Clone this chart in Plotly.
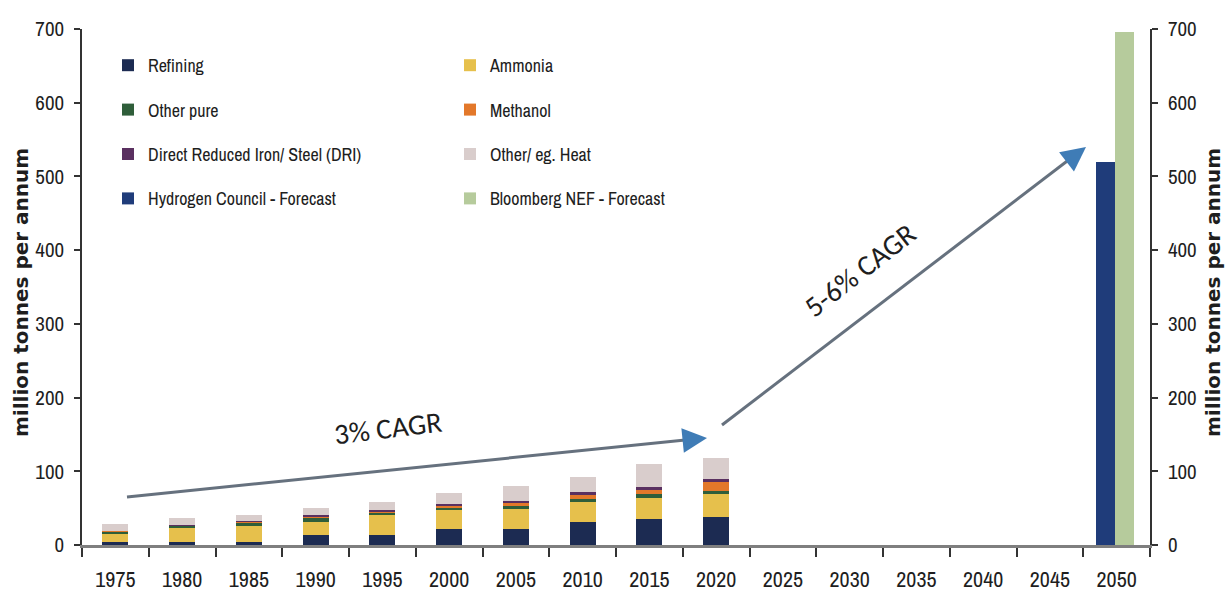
import plotly.graph_objects as go

# Categories (years) and hydrogen demand by end use, million tonnes per annum
years = ["1975", "1980", "1985", "1990", "1995", "2000", "2005", "2010",
         "2015", "2020", "2025", "2030", "2035", "2040", "2045", "2050"]
hist_years = years[:10]

refining = [4, 4, 4, 14, 14, 22, 22, 31, 35, 38]
ammonia = [11, 19, 22, 17, 27, 25, 27, 27, 29, 31]
other_pure = [3, 3, 5, 6, 3, 4, 4, 5, 5, 4]
methanol = [1, 1, 1, 2, 1, 2, 5, 5, 6, 13]
dri = [0.5, 0.5, 0.5, 2, 2, 2, 2, 4, 4, 4]
other_heat = [9, 9, 8, 9, 11, 15, 20, 20, 31, 28]

forecast_year = ["2050"]
hydrogen_council = [520]
bloomberg_nef = [696]

y_ticks = [0, 100, 200, 300, 400, 500, 600, 700]

NARROW = "Archivo Narrow, PT Sans Narrow, Roboto Condensed, sans-serif"
CALLOUT = "Carlito, Lato, sans-serif"
TEXT = "#1e1e1e"

# Plot-area geometry in pixels (used to place annotations in data units)
W, H = 1228, 604
L, R, T, B = 82, 78, 29, 59
plot_w = W - L - R
plot_h = H - T - B
slot = plot_w / len(years)


def px_to_x(px):
    return (px - L) / slot - 0.5


def px_to_y(py):
    return (H - B - py) / plot_h * 700


fig = go.Figure()

hist_series = [
    ("Refining", refining, "#1c2b52", "legend", "g1"),
    ("Ammonia", ammonia, "#e6c04c", "legend2", "g5"),
    ("Other pure", other_pure, "#2f5e3a", "legend", "g2"),
    ("Methanol", methanol, "#e3782a", "legend2", "g6"),
    ("Direct Reduced Iron/ Steel (DRI)", dri, "#5a3060", "legend", "g3"),
    ("Other/ eg. Heat", other_heat, "#d9cdcc", "legend2", "g7"),
]
for name, vals, color, leg, grp in hist_series:
    fig.add_trace(go.Bar(
        x=hist_years, y=vals, name=name, marker=dict(color=color, line=dict(width=0)),
        width=0.39, legend=leg, legendgroup=grp, hoverinfo="skip",
    ))

fig.add_trace(go.Bar(
    x=forecast_year, y=hydrogen_council, name="Hydrogen Council - Forecast",
    marker=dict(color="#1f3c7a", line=dict(width=0)), width=[0.28], offset=[-0.31],
    legend="legend", legendgroup="g4", hoverinfo="skip",
))
fig.add_trace(go.Bar(
    x=forecast_year, y=bloomberg_nef, name="Bloomberg NEF - Forecast",
    marker=dict(color="#b6cb9c", line=dict(width=0)), width=[0.28], offset=[-0.02],
    xaxis="x", yaxis="y2", legend="legend2", legendgroup="g8", hoverinfo="skip",
))

# Growth arrows: grey shaft with a blue head
arrows = [
    ((127, 497), (700, 438.5)),
    ((722, 425), (1079, 152)),
]
heads = [(707, 438), (1086, 147)]
for (p0, p1), tip in zip(arrows, heads):
    fig.add_shape(type="line", xref="x", yref="y",
                  x0=px_to_x(p0[0]), y0=px_to_y(p0[1]),
                  x1=px_to_x(p1[0]), y1=px_to_y(p1[1]),
                  line=dict(color="#66717e", width=3))
    dx, dy = tip[0] - p0[0], tip[1] - p0[1]
    n = (dx * dx + dy * dy) ** 0.5
    fig.add_annotation(x=px_to_x(tip[0]), y=px_to_y(tip[1]), xref="x", yref="y",
                       ax=-dx / n * 14, ay=-dy / n * 14, axref="pixel", ayref="pixel",
                       text="", showarrow=True, arrowhead=2, arrowsize=1.4,
                       arrowwidth=3.5, arrowcolor="#3f7cb6", standoff=0, startstandoff=0)

fig.add_annotation(x=px_to_x(388), y=px_to_y(428), xref="x", yref="y", text="3% CAGR",
                   showarrow=False, textangle=-7,
                   font=dict(family=CALLOUT, size=29, color=TEXT))
fig.add_annotation(x=px_to_x(860), y=px_to_y(270), xref="x", yref="y", text="5-6% CAGR",
                   showarrow=False, textangle=-38,
                   font=dict(family=CALLOUT, size=29, color=TEXT))

# Axis titles on both sides
for xp in (21, 1213):
    fig.add_annotation(x=(xp - L) / plot_w, y=(H - B - 293) / plot_h, xref="paper", yref="paper",
                       xanchor="center", yanchor="middle",
                       text="<b>million tonnes per annum</b>", showarrow=False, textangle=-90,
                       font=dict(family="DejaVu Sans, Arimo, sans-serif", size=20, color=TEXT))

yaxis_common = dict(
    range=[0, 700], tickvals=y_ticks, ticks="outside", ticklen=6, tickwidth=1.5,
    tickcolor="#333333", showline=True, linecolor="#333333", linewidth=1.5,
    showgrid=False, zeroline=False, ticklabelstandoff=6, automargin=False,
    tickfont=dict(family=NARROW, size=21, color=TEXT), fixedrange=True,
)

legend_common = dict(
    orientation="v", traceorder="grouped", tracegroupgap=18, yanchor="top",
    bgcolor="rgba(0,0,0,0)", font=dict(family=NARROW, size=18, color=TEXT),
    itemclick=False, itemdoubleclick=False,
)

fig.update_layout(
    width=W, height=H,
    margin=dict(l=L, r=R, t=T, b=B, pad=0, autoexpand=False),
    paper_bgcolor="white", plot_bgcolor="white",
    barmode="stack", bargap=0.61,
    showlegend=True,
    xaxis=dict(
        type="category", categoryorder="array", categoryarray=years,
        range=[-0.5, len(years) - 0.5], tickson="boundaries", ticks="outside",
        ticklen=9, tickwidth=1.5, tickcolor="#333333", automargin=False,
        showline=True, linecolor="#7f7f7f", linewidth=3, showgrid=False, zeroline=False,
        ticklabelstandoff=13, tickfont=dict(family=NARROW, size=22, color=TEXT),
        fixedrange=True,
    ),
    yaxis=dict(side="left", **yaxis_common),
    yaxis2=dict(side="right", overlaying="y", **yaxis_common),
    legend=dict(x=(108 - L) / plot_w, y=1 - (47 - T) / plot_h, **legend_common),
    legend2=dict(x=(450 - L) / plot_w, y=1 - (47 - T) / plot_h, **legend_common),
)

fig.write_html("out.html")
